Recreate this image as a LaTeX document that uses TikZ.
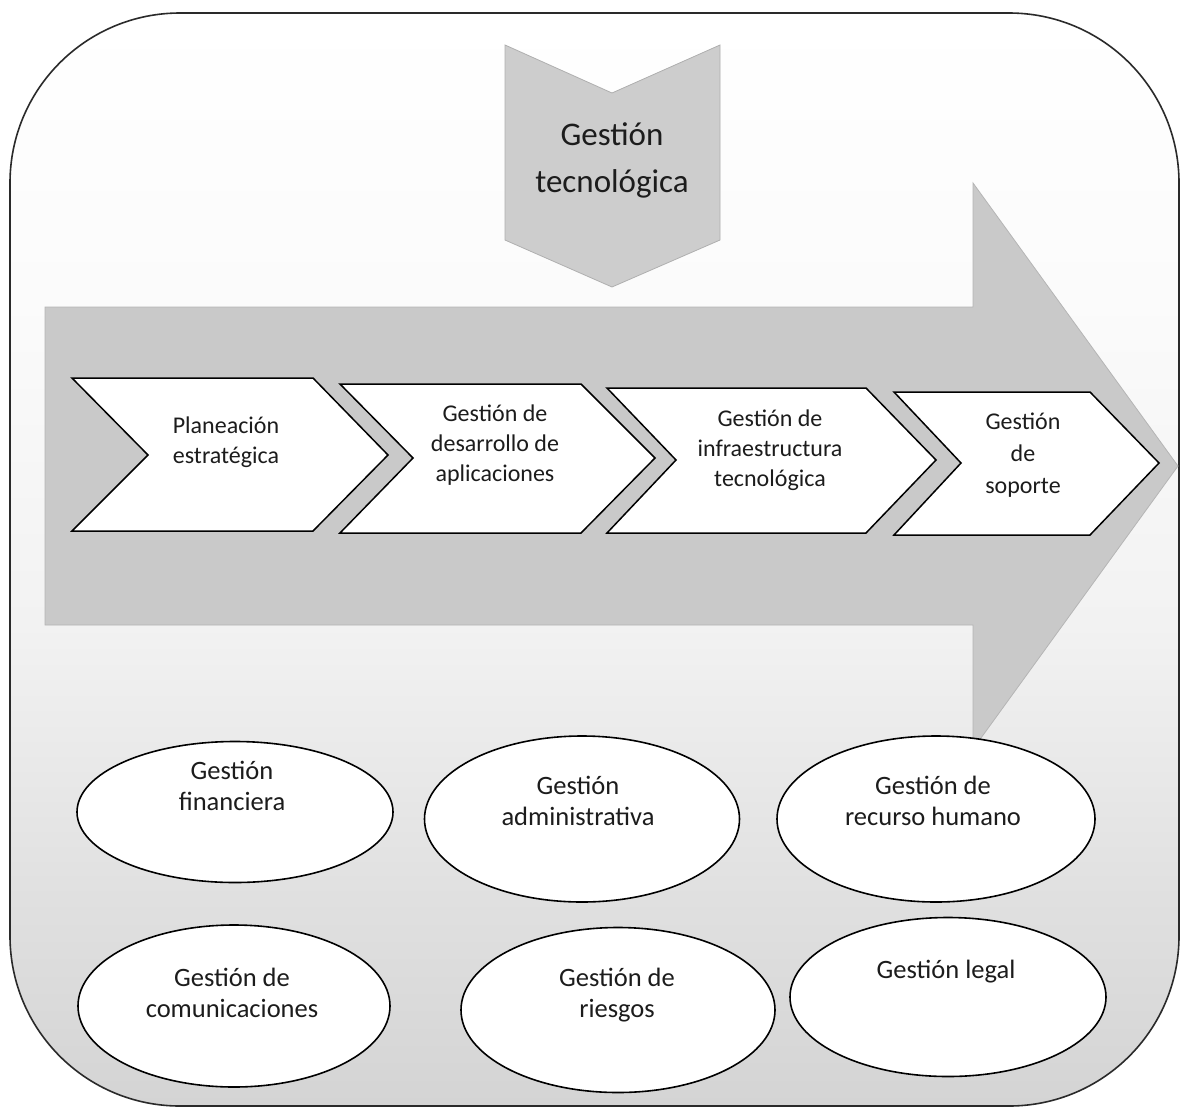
\documentclass[tikz,border=0pt]{standalone}
\usepackage{fontspec}
\setmainfont{Carlito}
\usetikzlibrary{shapes.geometric}

\definecolor{frameln}{HTML}{2A2A2A}
\definecolor{arrowfill}{HTML}{C9C9C9}
\definecolor{arrowln}{HTML}{B5B5B5}
\definecolor{tagfill}{HTML}{CDCDCD}
\definecolor{tagln}{HTML}{AFAFAF}
\definecolor{txt}{HTML}{1C1C1C}
\definecolor{bgA}{HTML}{D4D4D4}
\definecolor{bgB}{HTML}{E0E0E0}
\definecolor{bgC}{HTML}{EBEBEB}
\definecolor{bgD}{HTML}{F2F2F2}
\definecolor{bgE}{HTML}{FBFBFB}

% panel shading: light grey at the bottom fading to white at the top
\pgfdeclareverticalshading{panelshade}{100bp}{%
  color(0bp)=(bgA); color(25bp)=(bgA); color(34.5bp)=(bgB);
  color(42bp)=(bgC); color(47bp)=(bgD); color(62bp)=(bgE);
  color(75bp)=(white); color(100bp)=(white)}

\tikzset{
  panel/.style={draw=frameln, line width=1.6pt, shading=panelshade, rounded corners=170pt},
  bigarrow/.style={fill=arrowfill, draw=arrowln, line width=0.8pt},
  tag/.style={fill=tagfill, draw=tagln, line width=0.8pt},
  stage/.style={fill=white, draw=black, line width=1.5pt, line join=miter},
  area/.style={ellipse, draw=black, fill=white, line width=1.6pt, inner sep=0pt},
  titletext/.style={align=center, text=txt, font=\fontsize{33}{47}\selectfont},
  stagetext/.style={align=center, text=txt, font=\fontsize{24}{30}\selectfont},
  areatext/.style={align=center, text=txt, font=\fontsize{26.5}{31}\selectfont},
}

\begin{document}
\begin{tikzpicture}[x=1pt, y=-1pt]
  \useasboundingbox (0,0) rectangle (1181,1109);

  % outer rounded panel
  \path[panel] (10,13) rectangle (1179,1106);

  % large process arrow
  \path[bigarrow] (45,307) -- (973,307) -- (973,183) -- (1178,466)
        -- (973,749) -- (973,625) -- (45,625) -- cycle;

  % downward tag
  \path[tag] (505,45) -- (612,93) -- (720,45) -- (720,240) -- (612,287)
        -- (505,240) -- cycle;
  \node[titletext] (gt) at (612,160) {Gestión\\tecnológica};

  % process stages
  \path[stage] (72,378) -- (313,378) -- (388,455) -- (313,531) -- (72,531)
        -- (148,455) -- cycle;
  \path[stage] (340,384) -- (581,384) -- (655,458) -- (581,533) -- (340,533)
        -- (413,458) -- cycle;
  \path[stage] (607,388) -- (866,388) -- (936,460) -- (866,533) -- (607,533)
        -- (676,460) -- cycle;
  \path[stage] (894,392) -- (1090,392) -- (1159,463) -- (1090,535) -- (894,535)
        -- (961,463) -- cycle;

  \node[stagetext] (s1) at (226,442) {Planeación\\estratégica};
  \node[stagetext] (s2) at (495,445) {Gestión de\\desarrollo de\\aplicaciones};
  \node[stagetext] (s3) at (770,450) {Gestión de\\infraestructura\\tecnológica};
  \node[stagetext, font=\fontsize{24}{32}\selectfont] (s4) at (1023,455)
        {Gestión\\de\\soporte};

  % supporting areas
  \node[area, minimum width=316pt, minimum height=141pt] (e1) at (235,812) {};
  \node[area, minimum width=315pt, minimum height=166pt] (e2) at (582,819) {};
  \node[area, minimum width=318pt, minimum height=166pt] (e3) at (936,819) {};
  \node[area, minimum width=312pt, minimum height=162pt] (e4) at (234,1006) {};
  \node[area, minimum width=314pt, minimum height=165pt] (e5) at (618,1010) {};
  \node[area, minimum width=316pt, minimum height=159pt] (e6) at (948,997) {};

  \node[areatext] (t1) at (232,786) {Gestión\\financiera};
  \node[areatext] (t2) at (578,801) {Gestión\\administrativa};
  \node[areatext] (t3) at (933,801) {Gestión de\\recurso humano};
  \node[areatext] (t4) at (232,993) {Gestión de\\comunicaciones};
  \node[areatext] (t5) at (617,995) {Gestión de\\riesgos};
  \node[areatext] (t6) at (946,972) {Gestión legal};
\end{tikzpicture}
\end{document}
